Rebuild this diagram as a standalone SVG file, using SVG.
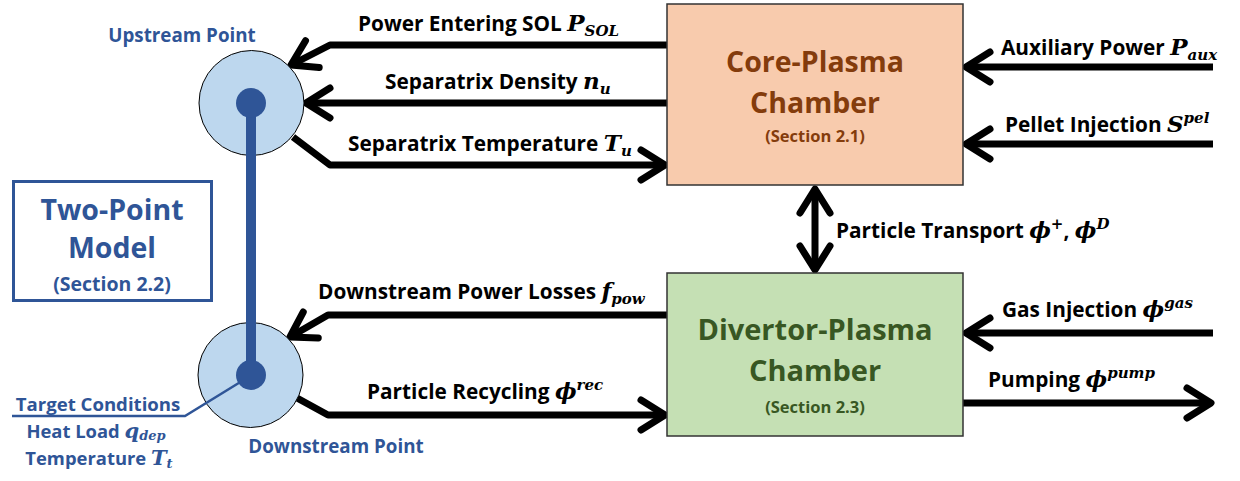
<svg xmlns="http://www.w3.org/2000/svg" width="1240" height="481" viewBox="0 0 1240 481">
<style>
.lbl{font-family:"Open Sans","Liberation Sans",sans-serif;font-weight:bold;font-size:20.8px;fill:#000}
.m{font-family:"DejaVu Serif","Liberation Serif",serif;font-style:italic;font-weight:bold}
.blue{fill:#2F5597}
.arr{fill:none;stroke:#000;stroke-width:7;stroke-linejoin:round}
.title{font-family:"Open Sans","Liberation Sans",sans-serif;font-weight:bold;text-anchor:middle}
</style>
<defs>
<marker id="ah" viewBox="-40 -25 50 50" markerUnits="userSpaceOnUse" markerWidth="50" markerHeight="50" refX="0" refY="0" orient="auto" overflow="visible">
<path d="M-24,-15 L0,0 L-24,15" fill="none" stroke="#000" stroke-width="7" stroke-linecap="round" stroke-linejoin="round"/>
</marker>
<marker id="ahs" viewBox="-40 -25 50 50" markerUnits="userSpaceOnUse" markerWidth="50" markerHeight="50" refX="0" refY="0" orient="auto-start-reverse" overflow="visible">
<path d="M-24,-15 L0,0 L-24,15" fill="none" stroke="#000" stroke-width="7" stroke-linecap="round" stroke-linejoin="round"/>
</marker>
</defs>

<g id="connectors">
<path class="arr" d="M667,45 H330 L291,65" marker-end="url(#ah)"/>
<path class="arr" d="M667,103 H306" marker-end="url(#ah)"/>
<path class="arr" d="M293,137 L330,165 H665" marker-end="url(#ah)"/>
<path class="arr" d="M667,315 H328 L290,337" marker-end="url(#ah)"/>
<path class="arr" d="M297,398 L328,415 H665" marker-end="url(#ah)"/>
<path class="arr" d="M1213,67 H966" marker-end="url(#ah)"/>
<path class="arr" d="M1213,144 H966" marker-end="url(#ah)"/>
<path class="arr" d="M1213,333 H966" marker-end="url(#ah)"/>
<path class="arr" d="M963,403 H1211" marker-end="url(#ah)"/>
<path class="arr" d="M815,189 V270" marker-start="url(#ahs)" marker-end="url(#ahs)"/>
</g>

<g id="labels">
<text class="lbl" x="358" y="31">Power Entering SOL <tspan class="m" font-size="23">P</tspan><tspan class="m" font-size="15" dy="5">SOL</tspan></text>
<text class="lbl" x="385" y="89">Separatrix Density <tspan class="m" font-size="23">n</tspan><tspan class="m" font-size="15" dy="5">u</tspan></text>
<text class="lbl" x="348" y="151">Separatrix Temperature <tspan class="m" font-size="23">T</tspan><tspan class="m" font-size="15" dy="5">u</tspan></text>
<text class="lbl" x="318" y="299">Downstream Power Losses <tspan class="m" font-size="23">f</tspan><tspan class="m" font-size="15" dy="5">pow</tspan></text>
<text class="lbl" x="367" y="399">Particle Recycling <tspan class="m" font-size="23">ϕ</tspan><tspan class="m" font-size="15" dy="-9">rec</tspan></text>
<text class="lbl" x="1001" y="55">Auxiliary Power <tspan class="m" font-size="23">P</tspan><tspan class="m" font-size="15" dy="5">aux</tspan></text>
<text class="lbl" x="1005" y="132">Pellet Injection <tspan class="m" font-size="23">S</tspan><tspan class="m" font-size="15" dy="-9">pel</tspan></text>
<text class="lbl" x="836" y="238">Particle Transport <tspan class="m" font-size="23">ϕ</tspan><tspan class="m" font-size="15" dy="-9">+</tspan><tspan dy="9">, </tspan><tspan class="m" font-size="23">ϕ</tspan><tspan class="m" font-size="15" dy="-9">D</tspan></text>
<text class="lbl" x="1002" y="317">Gas Injection <tspan class="m" font-size="23">ϕ</tspan><tspan class="m" font-size="15" dy="-9">gas</tspan></text>
<text class="lbl" x="988" y="387">Pumping <tspan class="m" font-size="23">ϕ</tspan><tspan class="m" font-size="15" dy="-9">pump</tspan></text>
</g>

<g id="core">
<rect x="667" y="4" width="296" height="181" fill="#F8CBAD" stroke="#333" stroke-width="1.5"/>
<text class="title" x="815" y="72" font-size="28.5" fill="#843C0C">Core-Plasma</text>
<text class="title" x="815" y="113" font-size="28.5" fill="#843C0C">Chamber</text>
<text class="title" x="815" y="142" font-size="16.5" fill="#843C0C">(Section 2.1)</text>
</g>

<g id="divertor">
<rect x="667" y="273" width="296" height="163" fill="#C5E0B4" stroke="#333" stroke-width="1.5"/>
<text class="title" x="815" y="340" font-size="29" fill="#385723">Divertor-Plasma</text>
<text class="title" x="815" y="381" font-size="29" fill="#385723">Chamber</text>
<text class="title" x="815" y="413" font-size="16.5" fill="#385723">(Section 2.3)</text>
</g>

<g id="two-point-model">
<rect x="13.5" y="181.5" width="198" height="119" fill="#fff" stroke="#2F5597" stroke-width="3"/>
<text class="title blue" x="112" y="220" font-size="28.5">Two-Point</text>
<text class="title blue" x="112" y="258" font-size="28.5">Model</text>
<text class="title blue" x="112" y="291" font-size="19.5">(Section 2.2)</text>
</g>

<g id="upstream">
<circle cx="251.5" cy="103" r="52.5" fill="#BDD7EE" stroke="#000" stroke-width="1"/>
<text class="title blue" x="182" y="42" font-size="18.8">Upstream Point</text>
</g>

<g id="downstream">
<circle cx="250.5" cy="375" r="52.5" fill="#BDD7EE" stroke="#000" stroke-width="1"/>
<text class="title blue" x="336" y="453" font-size="18.8">Downstream Point</text>
</g>

<g id="flux-tube">
<line x1="251" y1="103" x2="251" y2="375" stroke="#2F5597" stroke-width="10"/>
<circle cx="251" cy="103" r="15" fill="#2F5597"/>
<circle cx="251" cy="375" r="15" fill="#2F5597"/>
</g>

<g id="target">
<polyline points="12,416 185,416 242,381" fill="none" stroke="#2F5597" stroke-width="2.5"/>
<text class="title blue" x="98" y="411" font-size="18.6">Target Conditions</text>
<text class="title blue" x="96" y="438" font-size="18.4">Heat Load <tspan class="m" font-size="21">q</tspan><tspan class="m" font-size="13" dy="2">dep</tspan></text>
<text class="title blue" x="99" y="465" font-size="18.4">Temperature <tspan class="m" font-size="21">T</tspan><tspan class="m" font-size="13" dy="3">t</tspan></text>
</g>
</svg>
